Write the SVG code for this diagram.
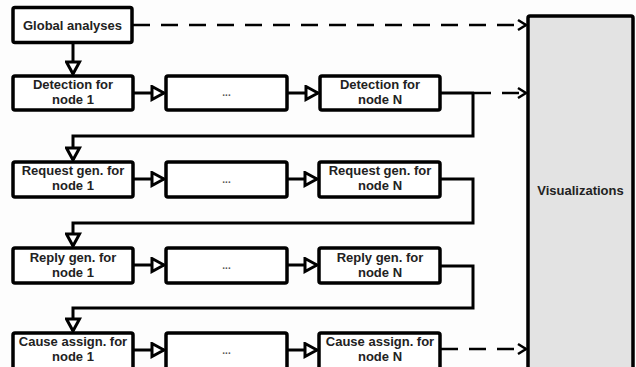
<svg xmlns="http://www.w3.org/2000/svg" width="636" height="367" viewBox="0 0 636 367">
<style>
.box{fill:#fff;stroke:#000;stroke-width:3.5}
.vis{fill:#e3e3e3;stroke:#000;stroke-width:3.5}
.t{font-family:"Liberation Sans",Arial,sans-serif;font-weight:bold;font-size:13px;fill:#222;text-anchor:middle}
.dots{font-family:"Liberation Sans",Arial,sans-serif;font-weight:bold;font-size:10px;fill:#555;text-anchor:middle}
.c{fill:none;stroke:#000;stroke-width:3}
.d{fill:none;stroke:#000;stroke-width:2.5;stroke-dasharray:17 11}
</style>
<defs>
<marker id="tri" markerUnits="userSpaceOnUse" viewBox="-2 -2 17 17" markerWidth="17" markerHeight="17" refX="12" refY="6.5" orient="auto">
<path d="M0,0 L12,6.5 L0,13 Z" fill="#fff" stroke="#000" stroke-width="3" stroke-linejoin="miter"/>
</marker>
<marker id="chev" markerUnits="userSpaceOnUse" viewBox="-2 -2 12 14" markerWidth="12" markerHeight="14" refX="8" refY="5" orient="auto">
<path d="M0,0 L8,5 L0,10" fill="none" stroke="#000" stroke-width="2.5"/>
</marker>
</defs>
<rect width="636" height="367" fill="#fdfdfd"/>
<g id="connectors">
<line class="d" x1="133" y1="25" x2="526" y2="25" marker-end="url(#chev)"/>
<line class="c" x1="73" y1="43" x2="73" y2="74" marker-end="url(#tri)"/>
<line class="c" x1="133" y1="93" x2="164" y2="93" marker-end="url(#tri)"/>
<line class="c" x1="287" y1="93" x2="318" y2="93" marker-end="url(#tri)"/>
<line class="c" x1="440" y1="93" x2="474" y2="93"/>
<line class="d" x1="474" y1="93" x2="526" y2="93" stroke-dasharray="0 8 17 11 17 11" marker-end="url(#chev)"/>
<path class="c" d="M473,93 V136 H73 V160" marker-end="url(#tri)"/>
<line class="c" x1="133" y1="179" x2="164" y2="179" marker-end="url(#tri)"/>
<line class="c" x1="287" y1="179" x2="317" y2="179" marker-end="url(#tri)"/>
<path class="c" d="M440,179 H473 V223 H73 V246" marker-end="url(#tri)"/>
<line class="c" x1="133" y1="265" x2="164" y2="265" marker-end="url(#tri)"/>
<line class="c" x1="287" y1="265" x2="317" y2="265" marker-end="url(#tri)"/>
<path class="c" d="M440,266 H473 V308 H73 V331" marker-end="url(#tri)"/>
<line class="c" x1="133" y1="350" x2="164" y2="350" marker-end="url(#tri)"/>
<line class="c" x1="287" y1="350" x2="317" y2="350" marker-end="url(#tri)"/>
<line class="d" x1="441" y1="349" x2="526" y2="349" marker-end="url(#chev)"/>
</g>
<g id="global"><rect class="box" x="13" y="7.5" width="119" height="35" rx="2"/><text class="t" x="72.5" y="29.5">Global analyses</text></g>
<g id="det1"><rect class="box" x="13" y="76" width="120" height="34" rx="2"/><text class="t" x="73" y="89">Detection for</text><text class="t" x="73" y="104">node 1</text></g>
<g id="detmid"><rect class="box" x="166" y="76" width="121" height="34" rx="2"/><text class="dots" x="226.5" y="96">...</text></g>
<g id="detN"><rect class="box" x="320" y="76" width="120" height="34" rx="2"/><text class="t" x="380" y="89">Detection for</text><text class="t" x="380" y="104">node N</text></g>
<g id="req1"><rect class="box" x="13" y="162" width="120" height="35" rx="2"/><text class="t" x="73" y="175">Request gen. for</text><text class="t" x="73" y="190">node 1</text></g>
<g id="reqmid"><rect class="box" x="166" y="162" width="121" height="35" rx="2"/><text class="dots" x="226.5" y="183">...</text></g>
<g id="reqN"><rect class="box" x="319" y="162" width="121" height="35" rx="2"/><text class="t" x="380" y="175">Request gen. for</text><text class="t" x="380" y="190">node N</text></g>
<g id="rep1"><rect class="box" x="13" y="248" width="120" height="35" rx="2"/><text class="t" x="73" y="262">Reply gen. for</text><text class="t" x="73" y="277">node 1</text></g>
<g id="repmid"><rect class="box" x="166" y="248" width="121" height="35" rx="2"/><text class="dots" x="226.5" y="269">...</text></g>
<g id="repN"><rect class="box" x="319" y="248" width="121" height="35" rx="2"/><text class="t" x="380" y="262">Reply gen. for</text><text class="t" x="380" y="277">node N</text></g>
<g id="cause1"><rect class="box" x="13" y="333" width="120" height="36" rx="2"/><text class="t" x="73" y="346">Cause assign. for</text><text class="t" x="73" y="361">node 1</text></g>
<g id="causemid"><rect class="box" x="166" y="333" width="121" height="36" rx="2"/><text class="dots" x="226.5" y="354">...</text></g>
<g id="causeN"><rect class="box" x="319" y="333" width="121" height="36" rx="2"/><text class="t" x="380" y="346">Cause assign. for</text><text class="t" x="380" y="361">node N</text></g>
<g id="vis"><rect class="vis" x="528" y="16" width="105" height="355" rx="2"/><text class="t" x="580.5" y="195">Visualizations</text></g>
</svg>
